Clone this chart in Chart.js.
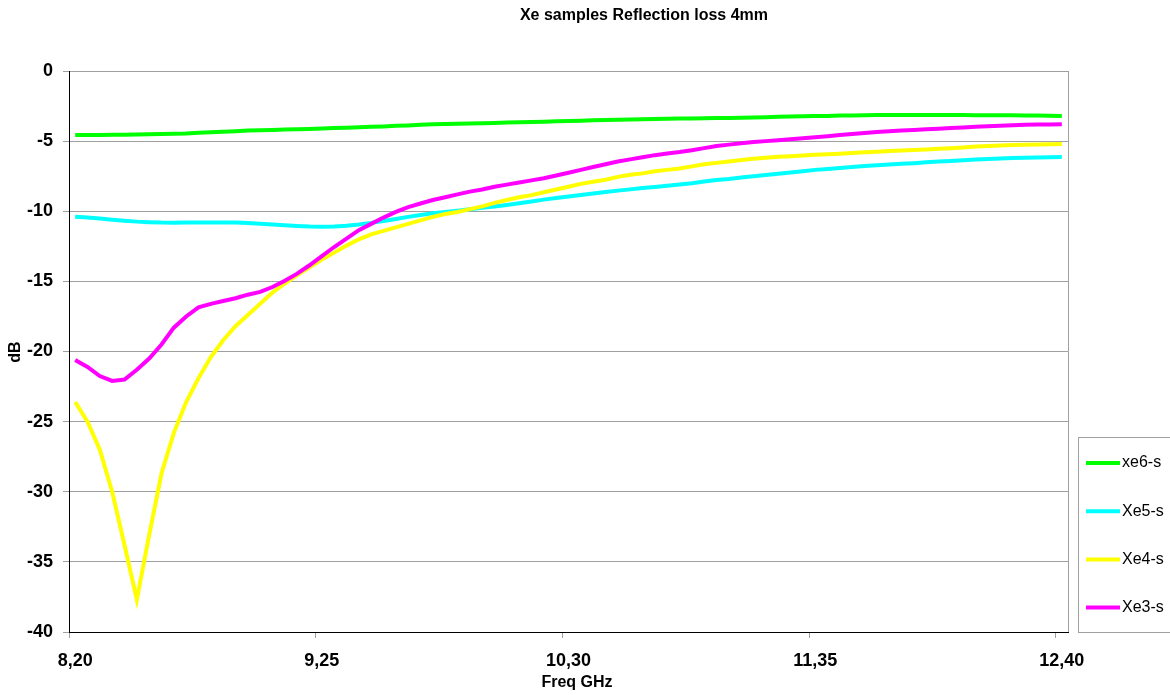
<!DOCTYPE html>
<html>
<head>
<meta charset="utf-8">
<script src="https://cdn.jsdelivr.net/npm/chart.js@4/dist/chart.umd.min.js"></script>
<style>
  html, body { margin: 0; padding: 0; background: #fff; }
  #wrap { width: 1170px; height: 695px; }
</style>
</head>
<body>
<div id="wrap"><canvas id="chart" width="1170" height="695"></canvas></div>
<script>
// 81 frequency points, 8.20 .. 12.40 GHz
const categories = Array.from({ length: 81 }, (_, i) => (8.2 + i * 0.0525).toFixed(4));
const tickLabels = ['8,20', '9,25', '10,30', '11,35', '12,40'];
const yTicks = [0, -5, -10, -15, -20, -25, -30, -35, -40];

const xe6 = [
    -4.56, -4.56, -4.56, -4.55, -4.55, -4.53, -4.51, -4.49, -4.47, -4.45,
    -4.41, -4.37, -4.33, -4.29, -4.25, -4.22, -4.20, -4.17, -4.15, -4.13,
    -4.10, -4.07, -4.04, -4.01, -3.98, -3.95, -3.91, -3.88, -3.84, -3.80,
    -3.78, -3.76, -3.74, -3.72, -3.70, -3.68, -3.66, -3.63, -3.61, -3.58,
    -3.56, -3.54, -3.51, -3.49, -3.47, -3.45, -3.44, -3.42, -3.41, -3.39,
    -3.38, -3.37, -3.36, -3.35, -3.33, -3.31, -3.29, -3.27, -3.25, -3.22,
    -3.21, -3.20, -3.18, -3.17, -3.15, -3.14, -3.14, -3.14, -3.14, -3.14,
    -3.14, -3.14, -3.14, -3.15, -3.15, -3.15, -3.16, -3.17, -3.18, -3.19,
    -3.20
];
const xe5 = [
    -10.39, -10.45, -10.52, -10.60, -10.67, -10.74, -10.78, -10.81, -10.82, -10.81,
    -10.80, -10.80, -10.80, -10.81, -10.84, -10.89, -10.94, -11.00, -11.05, -11.09,
    -11.10, -11.08, -11.03, -10.94, -10.83, -10.70, -10.55, -10.40, -10.27, -10.15,
    -10.06, -9.96, -9.86, -9.76, -9.66, -9.55, -9.43, -9.30, -9.17, -9.06,
    -8.95, -8.84, -8.73, -8.63, -8.53, -8.44, -8.35, -8.27, -8.19, -8.10,
    -8.00, -7.88, -7.78, -7.70, -7.60, -7.50, -7.42, -7.33, -7.24, -7.14,
    -7.05, -6.98, -6.91, -6.85, -6.78, -6.72, -6.67, -6.62, -6.57, -6.51,
    -6.46, -6.41, -6.36, -6.31, -6.27, -6.24, -6.21, -6.19, -6.17, -6.15,
    -6.13
];
const xe4 = [
    -23.6, -25.0, -27.0, -30.0, -33.8, -37.7, -33.1, -28.7, -25.8, -23.6,
    -21.9, -20.4, -19.2, -18.2, -17.4, -16.6, -15.8, -15.15, -14.55, -14.0,
    -13.45, -12.95, -12.45, -12.0, -11.65, -11.4, -11.15, -10.9, -10.65, -10.4,
    -10.2, -10.05, -9.85, -9.65, -9.4, -9.2, -9.0, -8.85, -8.65, -8.45,
    -8.25, -8.05, -7.9, -7.75, -7.55, -7.4, -7.3, -7.15, -7.05, -6.95,
    -6.8, -6.65, -6.55, -6.45, -6.35, -6.25, -6.18, -6.12, -6.07, -6.02,
    -5.98, -5.94, -5.90, -5.85, -5.80, -5.75, -5.70, -5.67, -5.63, -5.59,
    -5.55, -5.50, -5.45, -5.39, -5.35, -5.31, -5.28, -5.26, -5.24, -5.22,
    -5.20
];
const xe3 = [
    -20.6, -21.1, -21.75, -22.1, -22.0, -21.3, -20.5, -19.5, -18.3, -17.5,
    -16.85, -16.6, -16.4, -16.2, -15.95, -15.75, -15.4, -14.95, -14.45, -13.85,
    -13.2, -12.55, -11.95, -11.35, -10.9, -10.45, -10.05, -9.7, -9.45, -9.2,
    -9.0, -8.8, -8.6, -8.45, -8.25, -8.1, -7.95, -7.8, -7.65, -7.45,
    -7.25, -7.05, -6.85, -6.65, -6.45, -6.3, -6.15, -6.0, -5.88, -5.78,
    -5.65, -5.5, -5.35, -5.25, -5.15, -5.07, -5.0, -4.93, -4.87, -4.8,
    -4.72, -4.65, -4.57, -4.49, -4.42, -4.35, -4.3, -4.25, -4.2, -4.15,
    -4.11, -4.07, -4.02, -3.98, -3.94, -3.9, -3.86, -3.84, -3.82, -3.81,
    -3.8
];

const seriesNames = ['xe6-s', 'Xe5-s', 'Xe4-s', 'Xe3-s'];
const seriesColors = ['#00ff00', '#00ffff', '#ffff00', '#ff00ff'];
const seriesData = [xe6, xe5, xe4, xe3];

const FONT = 'Arial, "Liberation Sans", sans-serif';

const decor = {
    id: 'decor',
    afterDraw(chart) {
        const ctx = chart.ctx;
        const a = chart.chartArea;
        ctx.save();

        // plot area right edge
        ctx.strokeStyle = '#a0a0a0';
        ctx.lineWidth = 1;
        ctx.beginPath();
        ctx.moveTo(a.right + 0.5, a.top);
        ctx.lineTo(a.right + 0.5, a.bottom);
        ctx.stroke();

        // title
        ctx.fillStyle = '#000';
        ctx.textAlign = 'center';
        ctx.textBaseline = 'middle';
        ctx.font = 'bold 16px ' + FONT;
        ctx.fillText('Xe samples Reflection loss 4mm', 644, 16);

        // axis titles
        ctx.font = 'bold 16px ' + FONT;
        ctx.fillText('Freq GHz', 577, 683);
        ctx.save();
        ctx.translate(16, 352);
        ctx.rotate(-Math.PI / 2);
        ctx.fillText('dB', 0, 0);
        ctx.restore();

        // legend box
        ctx.strokeStyle = '#a0a0a0';
        ctx.strokeRect(1078.5, 437.5, 100, 195);
        ctx.font = '16px ' + FONT;
        ctx.textAlign = 'left';
        seriesNames.forEach((name, i) => {
            const y = 463 + i * 48.2;
            ctx.strokeStyle = seriesColors[i];
            ctx.lineWidth = 4;
            ctx.beginPath();
            ctx.moveTo(1086, y);
            ctx.lineTo(1120, y);
            ctx.stroke();
            ctx.fillStyle = '#000';
            ctx.fillText(name, 1122, y);
        });
        ctx.restore();
    }
};

new Chart(document.getElementById('chart'), {
    type: 'line',
    data: {
        labels: categories,
        datasets: seriesData.map((d, i) => ({
            label: seriesNames[i],
            data: d,
            borderColor: seriesColors[i],
            borderWidth: 4,
            pointRadius: 0,
            tension: 0,
            fill: false,
            order: 4 - i
        }))
    },
    options: {
        responsive: false,
        animation: false,
        layout: { padding: { left: 0, top: 71, right: 102, bottom: 0 } },
        plugins: {
            legend: { display: false },
            title: { display: false },
            tooltip: { enabled: false }
        },
        scales: {
            x: {
                type: 'category',
                offset: true,
                afterFit: (s) => { s.height = 63; },
                border: { color: '#000', width: 1 },
                grid: {
                    offset: true,
                    drawOnChartArea: false,
                    tickLength: 6,
                    color: (c) => (c.index % 20 === 0 && c.index <= 80) ? '#a0a0a0' : 'rgba(0,0,0,0)'
                },
                ticks: {
                    autoSkip: false,
                    maxRotation: 0,
                    minRotation: 0,
                    padding: 12,
                    color: '#000',
                    font: { family: FONT, size: 18, weight: 'bold' },
                    callback: (v, i) => (i % 20 === 0 ? tickLabels[i / 20] : '')
                }
            },
            y: {
                min: -40,
                max: 0,
                afterFit: (s) => { s.width = 69; },
                afterBuildTicks: (s) => { s.ticks = yTicks.map(v => ({ value: v })); },
                border: { color: '#000', width: 1 },
                grid: { color: '#a0a0a0', tickLength: 6 },
                ticks: {
                    padding: 10,
                    color: '#000',
                    font: { family: FONT, size: 18, weight: 'bold' }
                }
            }
        }
    },
    plugins: [decor]
});
</script>
</body>
</html>
